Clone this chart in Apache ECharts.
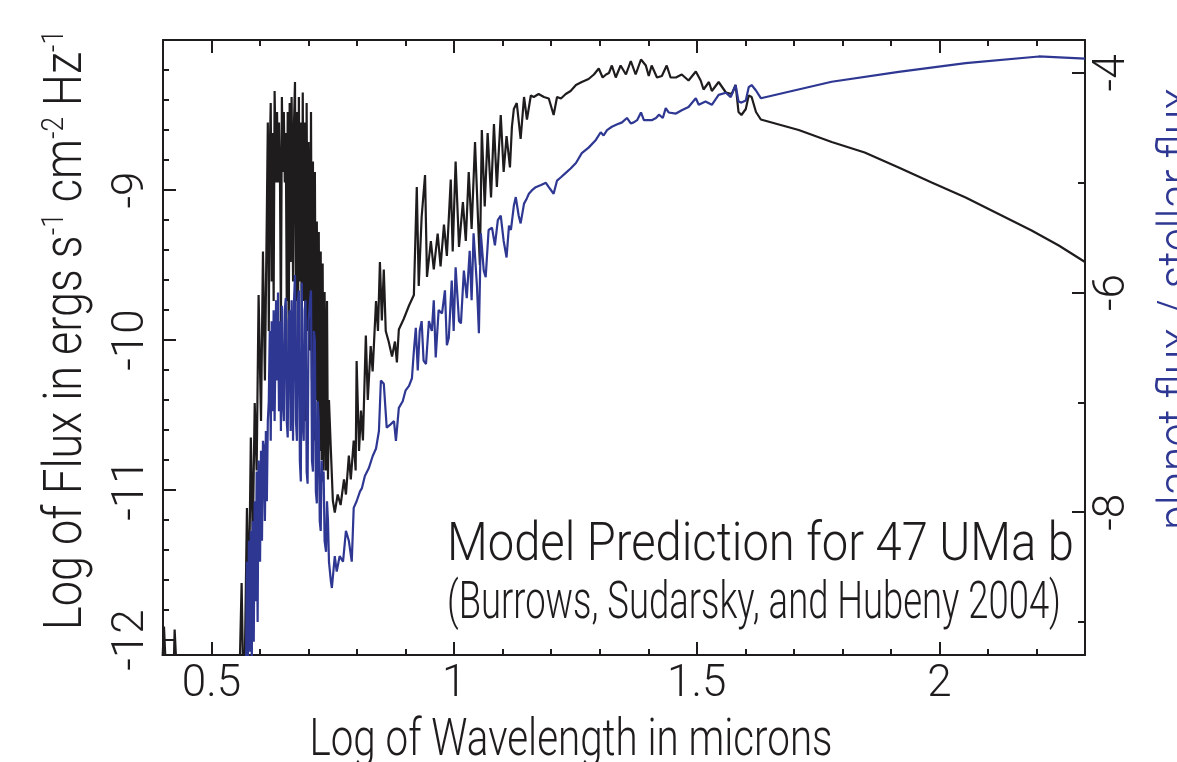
<!DOCTYPE html>
<html>
<head>
<meta charset="utf-8">
<title>Model Prediction for 47 UMa b</title>
<script src="https://cdn.jsdelivr.net/npm/echarts@6.0.0/dist/echarts.min.js"></script>
<style>
  html, body { margin: 0; padding: 0; background: #fff; }
  #chart { width: 1177px; height: 762px; }
</style>
</head>
<body>
<div id="chart"></div>
<script>
// tick positions (log wavelength, log flux, log flux ratio)
const xMajorTicks = [0.5, 1, 1.5, 2];
const xMinorTicks = [0.4, 0.5, 0.6, 0.7, 0.8, 0.9, 1.0, 1.1, 1.2, 1.3, 1.4, 1.5, 1.6, 1.7, 1.8, 1.9, 2.0, 2.1, 2.2, 2.3];
const fluxMajorTicks = [-12, -11, -10, -9];
const fluxMinorTicks = [-12, -11.8, -11.6, -11.4, -11.2, -11, -10.8, -10.6, -10.4, -10.2, -10, -9.8, -9.6, -9.4, -9.2, -9, -8.8, -8.6, -8.4, -8.2];
const ratioMajorTicks = [-8, -6, -4];
const ratioMinorTicks = [-9, -7, -5];

// planet flux, log10 erg s^-1 cm^-2 Hz^-1
const planetFlux = [
  [0.398, -12.2], [0.402, -11.91], [0.406, -12.2], [0.422, -12.2], [0.424, -11.93], [0.428, -12.2],
  [0.558, -12.2], [0.562, -11.62], [0.565, -12.2], [0.569, -12.06], [0.573, -11.12], [0.577, -11.73],
  [0.581, -10.65], [0.585, -11.33], [0.589, -10.42], [0.593, -10.87], [0.597, -9.70], [0.602, -10.54],
  [0.606, -9.41], [0.610, -10.27], [0.614, -9.15], [0.616, -8.55], [0.618, -9.94], [0.620, -8.75],
  [0.622, -8.42], [0.624, -9.61], [0.626, -8.62], [0.628, -9.74], [0.630, -8.34], [0.633, -8.95],
  [0.635, -8.48], [0.637, -8.95], [0.639, -8.55], [0.641, -8.88], [0.643, -9.94], [0.645, -8.38],
  [0.647, -8.88], [0.649, -8.48], [0.651, -8.95], [0.653, -8.62], [0.655, -9.74], [0.657, -8.48],
  [0.659, -10.07], [0.661, -8.42], [0.663, -9.48], [0.665, -8.38], [0.668, -9.61], [0.670, -8.55],
  [0.672, -8.28], [0.674, -9.74], [0.676, -8.48], [0.678, -10.27], [0.680, -8.38], [0.682, -9.61],
  [0.684, -8.55], [0.686, -10.01], [0.688, -8.35], [0.690, -9.74], [0.692, -8.55], [0.694, -10.54],
  [0.696, -8.42], [0.698, -9.94], [0.700, -8.68], [0.703, -10.07], [0.705, -8.48], [0.707, -10.27],
  [0.709, -8.81], [0.711, -10.67], [0.713, -8.88], [0.715, -10.40], [0.717, -9.21], [0.719, -10.54],
  [0.721, -9.28], [0.723, -10.74], [0.725, -9.41], [0.727, -10.80], [0.729, -9.49], [0.731, -10.87],
  [0.733, -9.68], [0.736, -10.87], [0.738, -9.74], [0.740, -10.93], [0.742, -10.40], [0.746, -10.74],
  [0.750, -11.07], [0.754, -11.15], [0.760, -11.03], [0.766, -11.10], [0.773, -10.93], [0.777, -11.03],
  [0.783, -10.77], [0.787, -10.93], [0.793, -10.67], [0.797, -10.87], [0.799, -10.14], [0.804, -10.74],
  [0.808, -10.47], [0.812, -10.67], [0.818, -9.97], [0.822, -10.40], [0.828, -10.04], [0.832, -10.21],
  [0.839, -9.74], [0.843, -9.94], [0.847, -9.48], [0.851, -9.87], [0.855, -9.53], [0.859, -9.94],
  [0.865, -10.01], [0.872, -10.11], [0.878, -10.01], [0.882, -10.15], [0.886, -9.93], [0.896, -9.86],
  [0.907, -9.77], [0.917, -9.70], [0.923, -8.98], [0.927, -9.64], [0.933, -9.18], [0.940, -8.90],
  [0.944, -9.58], [0.952, -9.34], [0.958, -9.53], [0.966, -9.29], [0.972, -9.51], [0.979, -9.23],
  [0.985, -9.44], [0.993, -8.93], [0.997, -9.41], [1.003, -8.81], [1.010, -9.38], [1.018, -9.08],
  [1.024, -9.34], [1.030, -8.88], [1.036, -9.26], [1.043, -8.68], [1.049, -9.18], [1.053, -9.50],
  [1.057, -8.60], [1.063, -9.11], [1.069, -8.62], [1.076, -9.05], [1.082, -8.56], [1.088, -8.98],
  [1.096, -8.50], [1.102, -8.88], [1.108, -8.64], [1.115, -8.85], [1.119, -8.58], [1.123, -8.46],
  [1.129, -8.42], [1.137, -8.66], [1.144, -8.38], [1.150, -8.53], [1.158, -8.37], [1.164, -8.38],
  [1.174, -8.36], [1.185, -8.38], [1.195, -8.39], [1.205, -8.50], [1.212, -8.38], [1.220, -8.39],
  [1.230, -8.36], [1.240, -8.34], [1.251, -8.30], [1.263, -8.28], [1.277, -8.26], [1.288, -8.23],
  [1.298, -8.19], [1.306, -8.25], [1.313, -8.23], [1.319, -8.22], [1.325, -8.17], [1.333, -8.25],
  [1.343, -8.17], [1.354, -8.23], [1.364, -8.14], [1.374, -8.23], [1.385, -8.13], [1.395, -8.17],
  [1.401, -8.24], [1.407, -8.17], [1.418, -8.25], [1.428, -8.24], [1.438, -8.17], [1.446, -8.25],
  [1.457, -8.25], [1.469, -8.23], [1.483, -8.27], [1.498, -8.21], [1.508, -8.27], [1.514, -8.33],
  [1.525, -8.28], [1.531, -8.34], [1.545, -8.28], [1.560, -8.35], [1.572, -8.36], [1.580, -8.30],
  [1.586, -8.48], [1.592, -8.50], [1.601, -8.46], [1.607, -8.37], [1.613, -8.38], [1.622, -8.48],
  [1.632, -8.53], [1.710, -8.60], [1.778, -8.68], [1.846, -8.75], [1.916, -8.85], [1.984, -8.95],
  [2.054, -9.05], [2.122, -9.16], [2.190, -9.27], [2.246, -9.37], [2.300, -9.48]
];

// planet flux / stellar flux, log10
const fluxRatio = [
  [0.571, -9.45], [0.573, -8.45], [0.575, -9.36], [0.577, -8.26], [0.579, -9.27], [0.581, -8.17],
  [0.583, -9.36], [0.585, -8.08], [0.587, -9.18], [0.589, -7.90], [0.591, -8.81], [0.593, -7.63],
  [0.595, -9.00], [0.597, -7.53], [0.600, -8.45], [0.602, -7.44], [0.604, -8.26], [0.606, -7.35],
  [0.608, -7.42], [0.610, -8.08], [0.612, -7.26], [0.614, -7.90], [0.616, -7.17], [0.618, -6.99],
  [0.620, -6.35], [0.622, -7.35], [0.624, -6.26], [0.626, -7.08], [0.628, -6.16], [0.630, -7.17],
  [0.633, -6.07], [0.635, -6.80], [0.637, -6.00], [0.639, -7.08], [0.641, -6.26], [0.643, -7.26],
  [0.645, -6.12], [0.647, -6.99], [0.649, -7.17], [0.651, -6.16], [0.653, -6.05], [0.655, -7.17],
  [0.657, -7.32], [0.659, -6.26], [0.661, -6.16], [0.663, -7.26], [0.665, -6.07], [0.668, -7.35],
  [0.670, -6.07], [0.672, -5.84], [0.674, -7.17], [0.676, -7.35], [0.678, -6.07], [0.680, -5.98],
  [0.682, -7.53], [0.684, -7.72], [0.686, -5.91], [0.688, -7.17], [0.690, -7.35], [0.692, -6.16],
  [0.694, -6.07], [0.696, -7.63], [0.698, -7.74], [0.700, -6.26], [0.703, -6.07], [0.705, -5.98],
  [0.707, -7.53], [0.709, -7.63], [0.711, -6.35], [0.713, -6.44], [0.715, -7.81], [0.717, -7.92],
  [0.719, -6.99], [0.721, -7.17], [0.723, -8.08], [0.725, -8.17], [0.727, -7.53], [0.729, -7.72],
  [0.731, -7.63], [0.733, -8.26], [0.736, -8.36], [0.738, -7.90], [0.740, -8.08], [0.742, -8.45],
  [0.744, -8.54], [0.746, -8.63], [0.748, -8.69], [0.754, -8.40], [0.758, -8.54], [0.764, -8.40],
  [0.771, -8.45], [0.777, -8.17], [0.783, -8.26], [0.789, -8.45], [0.793, -7.96], [0.799, -7.90],
  [0.806, -7.81], [0.810, -7.78], [0.816, -7.67], [0.824, -7.60], [0.832, -7.49], [0.839, -7.42],
  [0.845, -7.26], [0.849, -6.80], [0.855, -6.83], [0.861, -7.23], [0.869, -7.20], [0.876, -7.17],
  [0.880, -7.35], [0.886, -7.05], [0.894, -6.99], [0.900, -6.89], [0.907, -6.85], [0.913, -6.78],
  [0.917, -6.53], [0.921, -6.32], [0.925, -6.71], [0.929, -6.35], [0.933, -6.26], [0.937, -6.62],
  [0.942, -6.65], [0.948, -6.26], [0.954, -6.35], [0.958, -6.07], [0.962, -6.59], [0.968, -6.16],
  [0.975, -6.19], [0.981, -5.98], [0.985, -6.48], [0.989, -6.41], [0.995, -5.89], [0.999, -6.35],
  [1.003, -5.77], [1.010, -6.26], [1.014, -6.28], [1.020, -5.80], [1.026, -6.05], [1.032, -5.62],
  [1.036, -6.07], [1.040, -5.46], [1.047, -5.94], [1.051, -6.37], [1.055, -5.46], [1.061, -5.80],
  [1.065, -5.86], [1.071, -5.43], [1.078, -5.41], [1.084, -5.57], [1.090, -5.34], [1.096, -5.30],
  [1.102, -5.53], [1.108, -5.68], [1.113, -5.39], [1.117, -5.43], [1.123, -5.21], [1.127, -5.13],
  [1.133, -5.30], [1.137, -5.37], [1.144, -5.19], [1.150, -5.14], [1.154, -5.10], [1.160, -5.07],
  [1.168, -5.04], [1.179, -5.02], [1.189, -5.00], [1.195, -5.04], [1.205, -5.10], [1.212, -4.98],
  [1.220, -4.95], [1.230, -4.91], [1.240, -4.87], [1.251, -4.82], [1.263, -4.73], [1.277, -4.68],
  [1.292, -4.61], [1.302, -4.54], [1.308, -4.57], [1.315, -4.52], [1.325, -4.49], [1.335, -4.47],
  [1.346, -4.45], [1.356, -4.41], [1.364, -4.46], [1.370, -4.45], [1.377, -4.43], [1.385, -4.36],
  [1.391, -4.43], [1.395, -4.43], [1.407, -4.43], [1.416, -4.41], [1.422, -4.38], [1.430, -4.41],
  [1.436, -4.32], [1.442, -4.36], [1.457, -4.37], [1.469, -4.34], [1.483, -4.31], [1.498, -4.23],
  [1.504, -4.29], [1.518, -4.26], [1.531, -4.29], [1.545, -4.20], [1.560, -4.18], [1.570, -4.22],
  [1.580, -4.11], [1.586, -4.26], [1.592, -4.27], [1.601, -4.25], [1.607, -4.13], [1.613, -4.11],
  [1.622, -4.16], [1.632, -4.23], [1.778, -4.08], [1.916, -3.99], [2.054, -3.91], [2.205, -3.85],
  [2.300, -3.87]
];

const INK = "#1f1c1d";
const BLUE = "#2e3792";
const FONT = "Roboto, 'DejaVu Sans Condensed', sans-serif";
const WEIGHT = 300;

// the print face is a light condensed sans: squeeze each text to its width in the picture
const measureCtx = document.createElement("canvas").getContext("2d");
function textWidth(parts) {
  return parts.reduce((sum, [str, size]) => {
    measureCtx.font = WEIGHT + " " + size + "px " + FONT;
    return sum + measureCtx.measureText(str).width;
  }, 0);
}

// one axis = frame line + inside ticks; a second copy on the same side carries the short ticks
function frameAxis(extra, ticks, tickLen, withLine) {
  return Object.assign({
    type: "value",
    axisLine: { show: withLine, onZero: false, lineStyle: { color: INK, width: 2 } },
    axisTick: {
      show: true,
      inside: true,
      length: tickLen,
      customValues: ticks,
      lineStyle: { color: INK, width: 2 },
    },
    axisLabel: { show: false },
    splitLine: { show: false },
  }, extra);
}

const labelStyle = { fontFamily: FONT, fontWeight: WEIGHT, fontSize: 44, color: INK };

function squeezedText(opts) {
  const parts = opts.parts;
  const rich = {
    t: { fontFamily: FONT, fontWeight: WEIGHT, fontSize: opts.size, lineHeight: opts.size + 4, fill: opts.color, color: opts.color },
    s: { fontFamily: FONT, fontWeight: WEIGHT, fontSize: opts.supSize || 30, lineHeight: opts.supSize || 30, verticalAlign: "top", fill: opts.color, color: opts.color },
  };
  const text = parts.map(([str, size]) => (size === opts.size ? "{t|" : "{s|") + str + "}").join("");
  return {
    type: "text",
    silent: true,
    x: opts.x,
    y: opts.y,
    rotation: opts.rotation || 0,
    scaleX: opts.width / textWidth(parts),
    style: {
      text: text,
      rich: rich,
      fill: opts.color,
      align: opts.align || "center",
      verticalAlign: "middle",
      fontFamily: FONT,
      fontWeight: WEIGHT,
      fontSize: opts.size,
    },
  };
}

const chart = echarts.init(document.getElementById("chart"));

chart.setOption({
  animation: false,
  backgroundColor: "#fff",
  grid: {
    left: 163,
    right: 92,
    top: 40,
    bottom: 107,
    containLabel: false,
    outerBoundsMode: "none",
  },
  xAxis: [
    frameAxis({
      position: "bottom",
      min: 0.4,
      max: 2.3,
      axisLabel: Object.assign({ show: true, customValues: xMajorTicks, margin: 8 }, labelStyle),
    }, xMajorTicks, 13, true),
    frameAxis({ position: "bottom", min: 0.4, max: 2.3 }, xMinorTicks, 6, false),
    frameAxis({ position: "top", min: 0.4, max: 2.3 }, xMajorTicks, 13, true),
    frameAxis({ position: "top", min: 0.4, max: 2.3 }, xMinorTicks, 6, false),
  ],
  yAxis: [
    frameAxis({
      position: "left",
      min: -12.1,
      max: -8.0,
      axisLabel: Object.assign({ show: true, customValues: fluxMajorTicks, rotate: 90, margin: 9 }, labelStyle),
    }, fluxMajorTicks, 13, true),
    frameAxis({ position: "left", min: -12.1, max: -8.0 }, fluxMinorTicks, 6, false),
    frameAxis({
      position: "right",
      min: -9.3,
      max: -3.7,
      axisLabel: Object.assign({ show: true, customValues: ratioMajorTicks, rotate: 90, margin: 6 }, labelStyle),
    }, ratioMajorTicks, 13, true),
    frameAxis({ position: "right", min: -9.3, max: -3.7 }, ratioMinorTicks, 7, false),
  ],
  graphic: [
    squeezedText({
      parts: [["Log of Flux in ergs s", 53], ["-1", 31], [" cm", 53], ["-2", 31], [" Hz", 53], ["-1", 31]],
      size: 53, supSize: 31, x: 68, y: 330, rotation: -Math.PI / 2 * -1, width: 600, color: INK,
    }),
    squeezedText({
      parts: [["planet flux / stellar flux", 50]],
      size: 50, x: 1180, y: 309, rotation: Math.PI / 2, width: 442, color: BLUE,
    }),
    squeezedText({
      parts: [["Log of Wavelength in microns", 52]],
      size: 52, x: 571, y: 742, width: 523, color: INK,
    }),
    squeezedText({
      parts: [["Model Prediction for 47 UMa b", 53]],
      size: 53, x: 447, y: 547, width: 627, color: INK, align: "left",
    }),
    squeezedText({
      parts: [["(Burrows, Sudarsky, and Hubeny 2004)", 51]],
      size: 51, x: 447, y: 605, width: 614, color: INK, align: "left",
    }),
  ],
  series: [
    {
      name: "planet flux",
      type: "line",
      xAxisIndex: 0,
      yAxisIndex: 0,
      data: planetFlux,
      symbol: "none",
      silent: true,
      lineStyle: { color: INK, width: 2.2 },
    },
    {
      name: "planet / star",
      type: "line",
      xAxisIndex: 0,
      yAxisIndex: 2,
      data: fluxRatio,
      symbol: "none",
      silent: true,
      lineStyle: { color: BLUE, width: 2.2 },
    },
  ],
});
</script>
</body>
</html>
